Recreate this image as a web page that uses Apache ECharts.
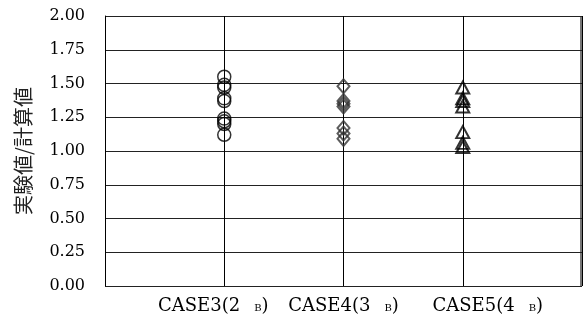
<!DOCTYPE html>
<html><head><meta charset="utf-8">
<script src="https://cdn.jsdelivr.net/npm/echarts@6/dist/echarts.min.js"></script>
<style>html,body{margin:0;padding:0;background:#fff}#c{width:586px;height:323px}</style>
</head><body><div id="c"></div>
<script>
const categories = ['CASE3(2', 'CASE4(3', 'CASE5(4'];
const case3Values = [1.55, 1.49, 1.47, 1.39, 1.37, 1.24, 1.22, 1.20, 1.12];
const case4Values = [1.48, 1.37, 1.35, 1.33, 1.17, 1.13, 1.09];
const case5Values = [1.47, 1.39, 1.37, 1.33, 1.14, 1.06, 1.03];
const yTicks = ['0.00','0.25','0.50','0.75','1.00','1.25','1.50','1.75','2.00'];
const yTitle = '実験値/計算値';

const chart = echarts.init(document.getElementById('c'), null, {renderer:'canvas'});
const pts = (x, arr) => arr.map(v => [x, v]);
const labelFmt = function(v){
  const i = Math.round(v) - 1;
  if (i < 0 || i >= categories.length || Math.abs(v - Math.round(v)) > 1e-6) return '';
  const core = '{a|' + categories[i] + '}{sp|}{b|B}{a|)}';
  if (i === 0) return core + '{r1|}';
  if (i === 2) return '{l3|}' + core;
  return core;
};
chart.setOption({
  animation:false,
  grid:{left:105, right:4, top:16, bottom:37},
  xAxis:{type:'value', min:0, max:4, interval:1,
    axisLine:{show:false}, axisTick:{show:false},
    splitLine:{show:true, lineStyle:{color:'#000', width:1}},
    axisLabel:{formatter:labelFmt, margin:9, color:'#000',
      rich:{
        a:{fontFamily:'DejaVu Serif', fontSize:18, color:'#000', lineHeight:22},
        b:{fontFamily:'DejaVu Serif', fontSize:10, color:'#000', lineHeight:22, verticalAlign:'middle', padding:[5,0,0,0]},
        sp:{width:14},
        r1:{width:22},
        l3:{width:50}
      }}
  },
  yAxis:{type:'value', min:0, max:2, interval:0.25,
    axisLine:{show:true, lineStyle:{color:'#000', width:1}}, axisTick:{show:false},
    splitLine:{show:true, lineStyle:{color:'#222', width:1}},
    axisLabel:{formatter:(v)=>yTicks[Math.round(v/0.25)], fontFamily:'DejaVu Serif', fontSize:16, color:'#000', margin:20},
    name:yTitle, nameLocation:'middle', nameGap:72, nameRotate:90,
    nameTextStyle:{fontFamily:'Noto Sans CJK JP', fontSize:20, color:'#222'}
  },
  series:[
    {type:'scatter', data:pts(1, case3Values), symbol:'circle', symbolSize:13,
      itemStyle:{color:'rgba(0,0,0,0)', borderColor:'#000', borderWidth:1.5}},
    {type:'scatter', data:pts(2, case4Values), symbol:'diamond', symbolSize:[12,14],
      itemStyle:{color:'rgba(0,0,0,0)', borderColor:'#333', borderWidth:2}},
    {type:'scatter', data:pts(3, case5Values), symbol:'triangle', symbolSize:[13,12],
      itemStyle:{color:'rgba(0,0,0,0)', borderColor:'#000', borderWidth:2}}
  ],
  graphic:[{type:'rect', shape:{x:580, y:16, width:2, height:270}, style:{fill:'#777'}, silent:true}]
});
</script></body></html>
